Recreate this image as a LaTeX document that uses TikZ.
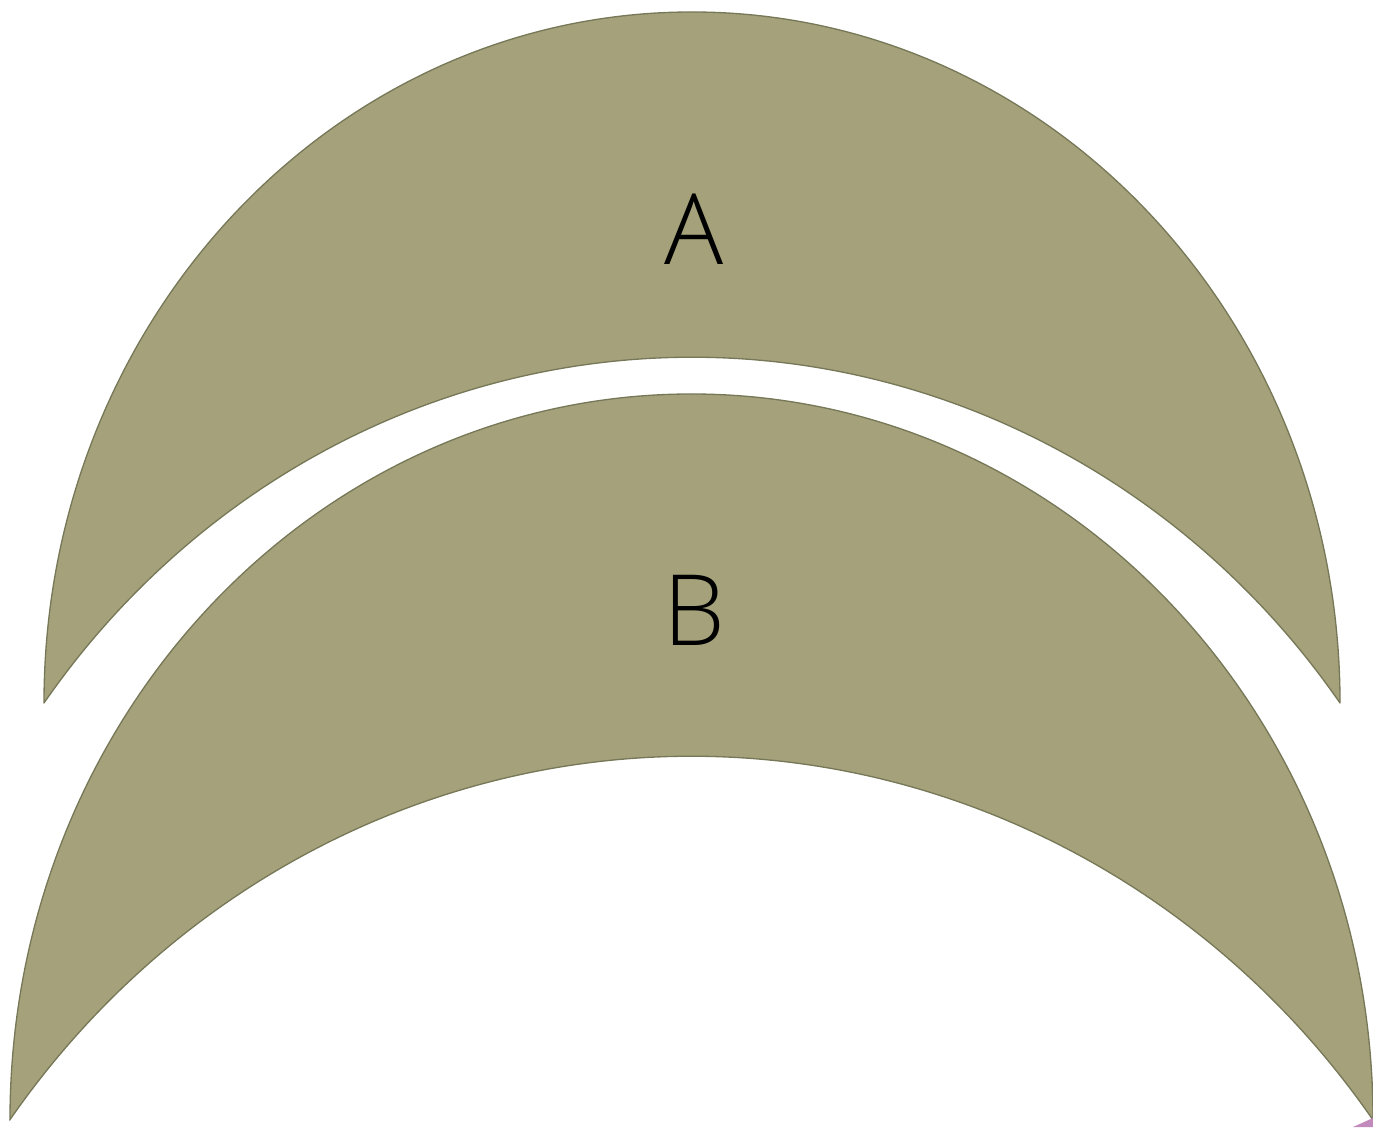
\documentclass[tikz,border=0pt]{standalone}
\usepackage{fontspec}
\setmainfont{Open Sans}[UprightFont={* Light}]
\usepackage{tikz}
\usetikzlibrary{calc}
\tikzset{
	arcband/.style={fill=bandFill, draw=bandEdge, line width=0.75pt, line join=round},
	bandlabel/.style={font=\fontsize{56}{60}\selectfont, text=black, anchor=base, inner sep=0pt},
}
\definecolor{bandFill}{RGB}{165,161,123}
\definecolor{bandEdge}{RGB}{118,120,88}
\definecolor{pinkC}{RGB}{193,137,188}

\begin{document}
\begin{tikzpicture}[line cap=round, line join=round]
		
		% ---- Frame ----
		\useasboundingbox (0,0) rectangle (27.46,22.54);
		
		% ---- Band A ----
		\coordinate (Aleft) at (0.88,8.48);
		\coordinate (Aright) at (26.80,8.48);
		\draw[arcband] (Aleft) arc[start angle=180, end angle=0, x radius=12.96cm, y radius=13.82cm]
			arc[start angle=35.9, end angle=144.1, x radius=16cm, y radius=16.72cm] -- cycle;
		\node[bandlabel] (labA) at (13.88,17.24) {A};
		
		% ---- Band B ----
		\coordinate (Bleft) at (0.20,0.14);
		\coordinate (Bright) at (27.46,0.14);
		\draw[arcband] (Bleft) arc[start angle=180, end angle=0, x radius=13.63cm, y radius=14.52cm]
			arc[start angle=35.9, end angle=144.1, x radius=16.83cm, y radius=17.59cm] -- cycle;
		\node[bandlabel] (labB) at (13.88,9.62) {B};
		
		% ---- Edge of a third band (cut off) ----
		\fill[pinkC] (27.06,0) -- (27.46,0.18) -- (27.46,0) -- cycle;
		
	\end{tikzpicture}
\end{document}
